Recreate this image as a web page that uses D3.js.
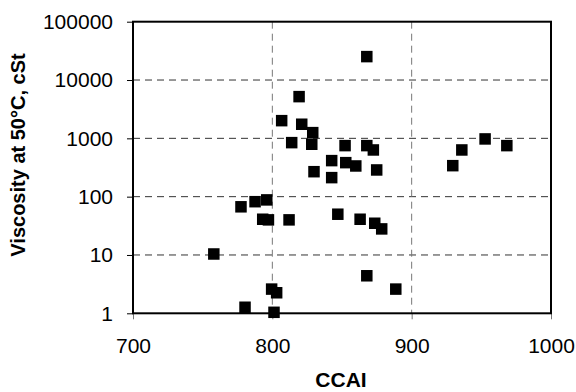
<!DOCTYPE html>
<html>
<head>
<meta charset="utf-8">
<script src="https://cdn.jsdelivr.net/npm/d3@7"></script>
<style>
  body { margin: 0; background: #fff; }
  svg { font-family: "Liberation Sans", Arial, sans-serif; }
</style>
</head>
<body>
<div class="chart-box"></div>
<script>
// CCAI vs viscosity at 50°C
var ccai = [758, 777.5, 780.4, 787.6, 793.1, 796, 797.2, 799.5, 801.2, 803.1,
            806.7, 812, 813.9, 819.2, 821.1, 828.3, 829, 829.9, 842.6, 842.6,
            847, 852.2, 852.7, 859.9, 863, 867.8, 867.8, 867.8, 872.5, 873.5,
            874.9, 878.5, 888.6, 929.5, 936, 952.7, 968.3];
var viscosity = [10.4, 67, 1.27, 82, 41, 88, 40, 2.6, 1.04, 2.25,
                 2010, 40, 844, 5190, 1745, 792, 1253, 268, 415, 212,
                 50, 750, 383, 336, 41, 25200, 750, 4.4, 632, 35,
                 287, 28, 2.6, 340, 632, 977, 750];
var x_ticks = [700, 800, 900, 1000];
var y_ticks = [1, 10, 100, 1000, 10000, 100000];

var width = 576, height = 392;
var margin = {top: 21.7, right: 25, bottom: 78.7, left: 133};
var plot_w = width - margin.left - margin.right,
    plot_h = height - margin.top - margin.bottom;

var svg = d3.select(".chart-box").append("svg")
    .attr("width", width)
    .attr("height", height);

var g = svg.append("g")
    .attr("transform", "translate(" + margin.left + "," + margin.top + ")");

var x = d3.scaleLinear().domain([700, 1000]).range([0, plot_w]);
var y = d3.scaleLog().domain([1, 100000]).range([plot_h, 0]);

// gridlines
g.selectAll(".hgrid")
    .data(y_ticks.slice(1, -1))
  .enter().append("line")
    .attr("class", "hgrid")
    .attr("x1", 0).attr("x2", plot_w)
    .attr("y1", function(d) { return y(d); })
    .attr("y2", function(d) { return y(d); })
    .attr("stroke", "#333")
    .attr("stroke-dasharray", "7,5");

g.selectAll(".vgrid")
    .data(x_ticks.slice(1, -1))
  .enter().append("line")
    .attr("class", "vgrid")
    .attr("y1", 0).attr("y2", plot_h)
    .attr("x1", function(d) { return x(d); })
    .attr("x2", function(d) { return x(d); })
    .attr("stroke", "#777")
    .attr("stroke-dasharray", "7,5");

// axes
var x_axis = g.append("g")
    .attr("transform", "translate(0," + plot_h + ")")
    .call(d3.axisBottom(x).tickValues(x_ticks).tickSize(6).tickPadding(19).tickFormat(d3.format("d")));
x_axis.select(".domain").remove();
x_axis.selectAll(".tick line").attr("stroke", "#777");
x_axis.selectAll("text").style("font-size", "21px").attr("fill", "#000");

var y_axis = g.append("g")
    .call(d3.axisLeft(y).tickValues(y_ticks).tickSize(6).tickPadding(14).tickFormat(d3.format("d")));
y_axis.select(".domain").remove();
y_axis.selectAll(".tick line").attr("stroke", "#000");
y_axis.selectAll("text").style("font-size", "21px").attr("fill", "#000");

// frame
g.append("rect")
    .attr("width", plot_w)
    .attr("height", plot_h)
    .attr("fill", "none")
    .attr("stroke", "#000")
    .attr("stroke-width", 2);

// points
var pts = ccai.map(function(d, i) { return {c: d, v: viscosity[i]}; });
var s = 11.5;
g.selectAll(".pt")
    .data(pts)
  .enter().append("rect")
    .attr("class", "pt")
    .attr("x", function(d) { return x(d.c) - s / 2; })
    .attr("y", function(d) { return y(d.v) - s / 2; })
    .attr("width", s)
    .attr("height", s)
    .attr("fill", "#000");

// titles
svg.append("text")
    .attr("x", 341)
    .attr("y", 387)
    .attr("text-anchor", "middle")
    .style("font-size", "21px")
    .style("font-weight", "bold")
    .text("CCAI");

svg.append("text")
    .attr("transform", "translate(25,155) rotate(-90)")
    .attr("text-anchor", "middle")
    .style("font-size", "20px")
    .style("font-weight", "bold")
    .text("Viscosity at 50°C, cSt");
</script>
</body>
</html>
